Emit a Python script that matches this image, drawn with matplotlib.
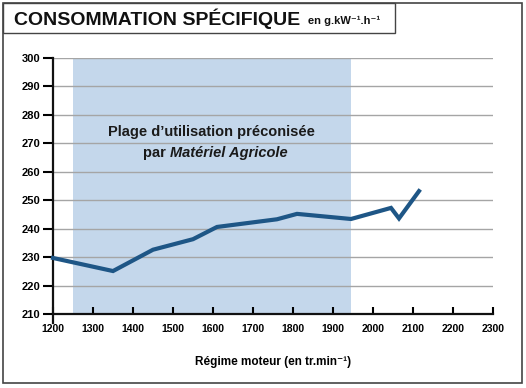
import matplotlib
matplotlib.use("Agg")
import matplotlib.pyplot as plt
from matplotlib.patches import Rectangle

# data
regime = [1200, 1350, 1450, 1550, 1610, 1760, 1810, 1945, 2045, 2065, 2115]
conso = [229.7, 225.1, 232.6, 236.3, 240.6, 243.3, 245.2, 243.4, 247.3, 243.6, 253.2]
zone_start, zone_end = 1250, 1945
x_ticks = list(range(1200, 2301, 100))
y_ticks = list(range(210, 301, 10))

plt.rcParams['font.family'] = ['Liberation Sans', 'DejaVu Sans']

W, H = 526, 388
fig = plt.figure(figsize=(W / 100, H / 100), dpi=100)

# outer frame and title box
fig.patches.append(Rectangle((3 / W, 5 / H), 519 / W, 380 / H, transform=fig.transFigure,
                             fill=False, edgecolor='#444444', linewidth=1.2))
fig.patches.append(Rectangle((3 / W, 1 - 33 / H), 392 / W, 30 / H, transform=fig.transFigure,
                             fill=True, facecolor='white', edgecolor='#444444', linewidth=1.0))
fig.text(14 / W, 1 - 19 / H, 'CONSOMMATION SPÉCIFIQUE', fontsize=14, fontweight='bold',
         va='center', ha='left', color='#111111')
fig.text(308 / W, 1 - 21 / H, 'en g.kW\u207b\u00b9.h\u207b\u00b9', fontsize=8,
         fontweight='bold', va='center', ha='left', color='#111111')

ax = fig.add_axes([53 / W, 1 - 314 / H, 440 / W, 256 / H])
ax.set_xlim(1200, 2300)
ax.set_ylim(210, 300)

ax.axvspan(zone_start, zone_end, color='#c4d7eb', zorder=0, lw=0)
for y in y_ticks[1:]:
    ax.axhline(y, color='#a5a5a5', lw=1.0, zorder=1)

ax.plot(regime, conso, color='#1e5686', lw=3, solid_joinstyle='miter', zorder=3, clip_on=False)

ax.text(1595, 274, 'Plage d\u2019utilisation préconisée', ha='center', va='center',
        fontsize=10.5, fontweight='bold', color='#1a1a1a')
ax.text(1492, 266.6, 'par ', ha='right', va='center', fontsize=10.5, fontweight='bold',
        color='#1a1a1a')
ax.text(1492, 266.6, 'Matériel Agricole', ha='left', va='center', fontsize=10.5,
        fontweight='bold', fontstyle='italic', color='#1a1a1a')

ax.set_xticks(x_ticks)
ax.set_yticks(y_ticks)
ax.tick_params(axis='x', direction='in', length=5, width=1.5, labelsize=7.5, pad=7)
ax.tick_params(axis='y', direction='out', length=7, width=1.5, labelsize=8, pad=2)
for lab in ax.get_xticklabels() + ax.get_yticklabels():
    lab.set_fontweight('bold')
for s in ['top', 'right']:
    ax.spines[s].set_visible(False)
for s in ['left', 'bottom']:
    ax.spines[s].set_linewidth(1.6)
    ax.spines[s].set_color('#111111')
ax.spines['left'].set_bounds(207, 300)
ax.set_xlabel('Régime moteur (en tr.min\u207b\u00b9)', fontsize=8.5, fontweight='bold',
              labelpad=16)
ax.set_facecolor('white')

fig.savefig('out.png', dpi=100)
